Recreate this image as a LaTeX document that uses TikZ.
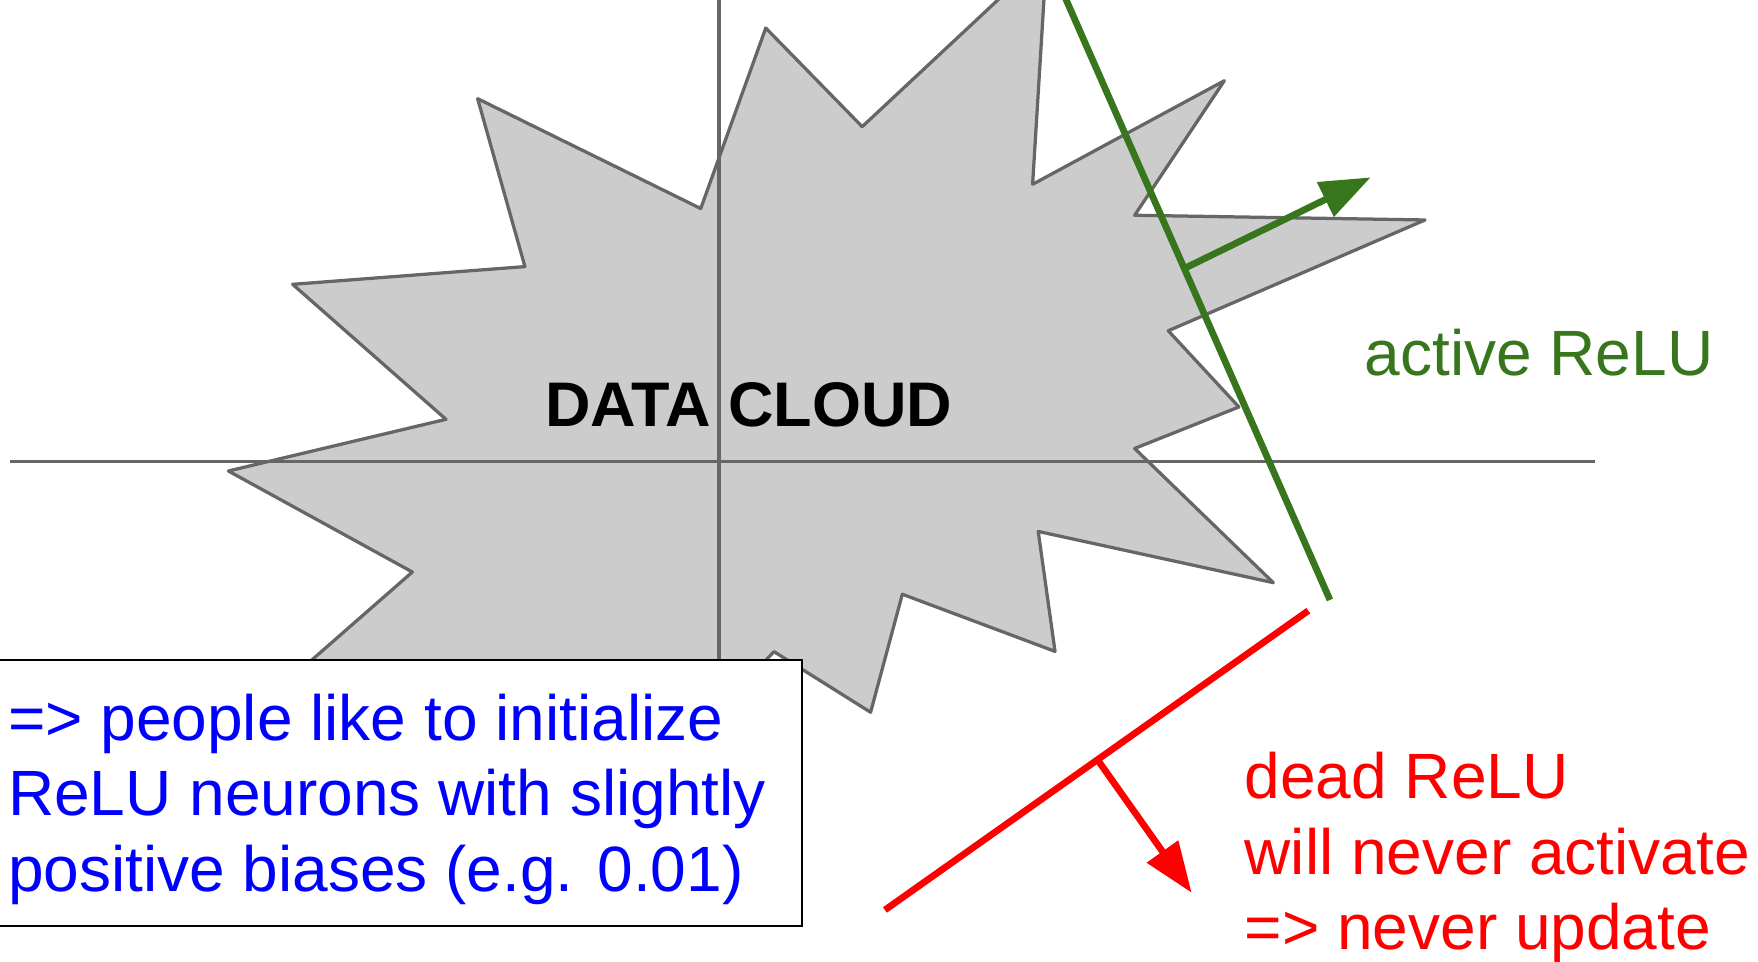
\documentclass[tikz,border=0pt]{standalone}
\usepackage{fontspec}
\setmainfont{Liberation Sans}
\usetikzlibrary{arrows.meta}

\definecolor{cloudfill}{HTML}{CCCCCC}
\definecolor{cloudline}{HTML}{666666}
\definecolor{relugreen}{HTML}{38761D}
\definecolor{relured}{HTML}{FF0000}
\definecolor{noteblue}{HTML}{0000FF}

\begin{document}
\begin{tikzpicture}[
  x=1pt, y=-1pt,
  txt/.style={font=\fontsize{57.1}{67.5}\selectfont, inner sep=0pt, align=left},
  axis/.style={draw=cloudline, line width=2.9pt},
  relu/.style={line width=6pt},
  push/.style={-{Triangle[length=45pt, width=33pt]}, line width=6pt},
]
\useasboundingbox (0,0) rectangle (1568,858);

% ---------------- data cloud ----------------
\filldraw[fill=cloudfill, draw=cloudline, line width=2.9pt, line join=round]
  (683,25) -- (769,113) -- (933.6,-40.7) -- (921,164.4) -- (1092,72)
  -- (1012,192) -- (1271,196.2) -- (1042,295) -- (1105,363) -- (1012,400)
  -- (1135.7,519.7) -- (926,474) -- (941,581) -- (804.8,530) -- (776.5,635.3)
  -- (690.3,581.2) -- (560,720) -- (470,650) -- (200,657) -- (367.8,510.2)
  -- (203.7,420.1) -- (397.8,374) -- (261,253.6) -- (468.2,237.8) -- (426,88)
  -- (625,186) -- cycle;
\node[font=\fontsize{56.2}{67}\selectfont\bfseries, inner sep=0pt, anchor=base] (cloud) at (668,380) {DATA CLOUD};

% axes
\coordinate (xl) at (9,411.5);
\coordinate (xr) at (1423,411.5);
\coordinate (yt) at (641.3,-5);
\coordinate (yb) at (641.3,600);
\draw[axis] (xl) -- (xr);
\draw[axis] (yt) -- (yb);

% ---------------- active ReLU ----------------
\coordinate (g1) at (946.6,-10);
\coordinate (g2) at (1186.2,535.1);
\coordinate (ga) at (1056.2,239.5);
\coordinate (gb) at (1222.5,158.2);
\draw[relu, relugreen] (g1) -- (g2);
\draw[push, relugreen] (ga) -- (gb);
\node[txt, text=relugreen, anchor=base west] (act) at (1217,335) {active ReLU};

% ---------------- note box ----------------
\node[draw=black, fill=white, line width=1.8pt, minimum width=717.5pt, minimum height=237pt,
  anchor=north west, inner sep=0pt] (box) at (-3,588) {};
\node[txt, text=noteblue, anchor=north west] (note) at (7,618.6)
  {=> people like to initialize\\ReLU neurons with slightly\\positive biases (e.g. 0.01)};

% ---------------- dead ReLU ----------------
\coordinate (r1) at (789.3,811.6);
\coordinate (r2) at (1166.9,544.7);
\coordinate (ra) at (979,677.7);
\coordinate (rb) at (1062.8,796.2);
\draw[relu, relured] (r1) -- (r2);
\draw[push, relured] (ra) -- (rb);
\node[txt, text=relured, anchor=north west] (dead) at (1110,670.5)
  {dead ReLU\\will never activate\\=> never update};
\end{tikzpicture}
\end{document}
